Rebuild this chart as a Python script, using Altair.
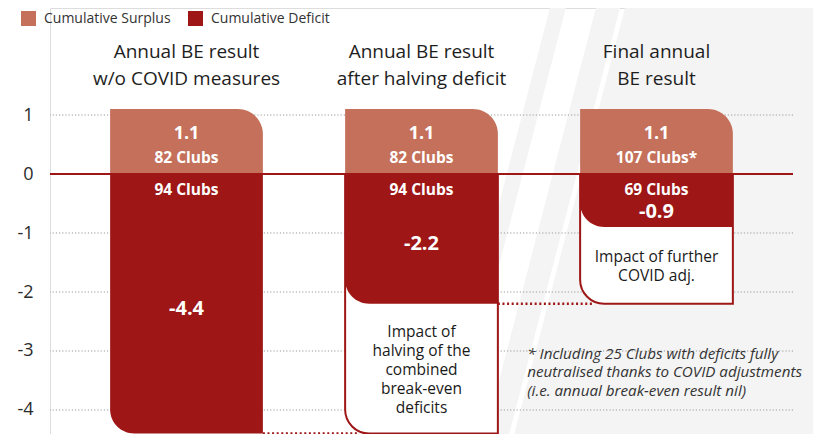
import altair as alt
import pandas as pd

# ---------------- data ----------------
titles = [["Annual BE result", "w/o COVID measures"],
          ["Annual BE result", "after halving deficit"],
          ["Final annual", "BE result"]]
surplus = [1.1, 1.1, 1.1]
surplus_clubs = ["82 Clubs", "82 Clubs", "107 Clubs*"]
deficit = [-4.4, -2.2, -0.9]
deficit_clubs = ["94 Clubs", "94 Clubs", "69 Clubs"]
impact_notes = [None,
                ["Impact of", "halving of the", "combined", "break-even", "deficits"],
                ["Impact of further", "COVID adj."]]
y_ticks = [1, 0, -1, -2, -3, -4]
legend_labels = ["Cumulative Surplus", "Cumulative Deficit"]
footnote = ["* Including 25 Clubs with deficits fully",
            "neutralised thanks to COVID adjustments",
            "(i.e. annual break-even result nil)"]

# decorative diagonal background bands (chart units): name, top-left, bottom-left, top-right, bottom-right
decor_bands = [("b1", 1.5464, 1.0753, 1.6145, 1.1434),
               ("b2", 1.7421, 1.2711, 1.8443, 1.3732),
               ("b3", 1.8655, 1.3945, 2.75, 2.75)]

# ---------------- style ----------------
SURPLUS = "#C4705A"
DEFICIT = "#9E1616"
FONT = "Open Sans"
HW = 0.325  # half bar width in category units
XDOM = [-0.5809, 2.5809]
YDOM = [-4.4068, 2.8136]
W, H = 743, 426
PPU = H / (YDOM[1] - YDOM[0])  # pixels per y unit
NOTE_LH = 19
FOOT_LH = 18.5

xs = alt.Scale(domain=XDOM, nice=False, zero=False)
ys = alt.Scale(domain=YDOM, nice=False, zero=False)
yaxis = alt.Axis(values=y_ticks, grid=False, ticks=False, domain=False,
                 labelFontSize=18, labelColor="#2b2b2b", labelFont=FONT,
                 labelPadding=17, title=None, labelExpr="'' + datum.value")


def X(f):
    return alt.X(f, type="quantitative", scale=xs, axis=None, stack=None)


def Y(f):
    return alt.Y(f, type="quantitative", scale=ys, axis=yaxis)


n = len(surplus)
bars = pd.DataFrame({
    "i": list(range(n)),
    "x0": [i - HW for i in range(n)],
    "x1": [i + HW for i in range(n)],
    "surplus": surplus,
    "deficit": deficit,
    "zero": [0] * n,
    "s_txt": [f"{v:.1f}" for v in surplus],
    "d_txt": [f"{v:.1f}" for v in deficit],
    "s_clubs": surplus_clubs,
    "d_clubs": deficit_clubs,
    "d_lab": [min(v / 2, -0.56) for v in deficit],
    "title": titles,
})
bars["t_s"] = legend_labels[0]
bars["t_d"] = legend_labels[1]

notes_list = impact_notes[1:]
boxes = pd.DataFrame({
    "x0": [i - HW for i in range(1, n)],
    "x1": [i + HW for i in range(1, n)],
    "prev": deficit[:-1],
    "zero": [0] * (n - 1),
    # centre of the box, shifted so that the multi-line block is centred
    "mid": [(deficit[i] + deficit[i - 1]) / 2 + (len(notes_list[i - 1]) - 1) / 2 * NOTE_LH / PPU
            for i in range(1, n)],
    "i": list(range(1, n)),
    "note": notes_list,
})

conn = pd.DataFrame({
    "x0": [i + HW for i in range(n - 1)],
    "x1": [i + 1 - HW + 0.05 for i in range(n - 1)],
    "y": deficit[:-1],
})

grid = pd.DataFrame({"v": y_ticks})

decor_rows = []
for name, tl, bl, tr, br in decor_bands:
    decor_rows.append({"band": name, "y": YDOM[1], "x": tl, "x2": tr})
    decor_rows.append({"band": name, "y": YDOM[0], "x": bl, "x2": br})
decor = pd.DataFrame(decor_rows)

foot = pd.DataFrame({"x": [1.45],
                     "y": [-3.356 + (len(footnote) - 1) / 2 * FOOT_LH / PPU],
                     "t": [footnote]})

color = alt.Color("type:N",
                  scale=alt.Scale(domain=legend_labels, range=[SURPLUS, DEFICIT]),
                  legend=alt.Legend(orient="none", legendX=-29, legendY=3,
                                    direction="horizontal", title=None,
                                    symbolType="square", symbolSize=225,
                                    symbolStrokeWidth=0, symbolOpacity=1,
                                    labelFontSize=14, labelFont=FONT,
                                    labelColor="#333333", columnPadding=17,
                                    labelOffset=8, padding=0, labelLimit=300))

# ---------------- layers ----------------
bg = alt.Chart(decor).mark_area(orient="horizontal", color="#F4F4F4").encode(
    y=Y("y"), x=X("x"), x2="x2", detail="band:N")

gridlines = alt.Chart(grid).transform_filter("datum.v != 0").mark_rule(
    color="#9a9a9a", strokeWidth=1, strokeDash=[1.2, 2]).encode(y=Y("v"))

box_layer = alt.Chart(boxes).mark_rect(
    fill="white", stroke=DEFICIT, strokeWidth=2, cornerRadiusBottomLeft=24).encode(
    x=X("x0"), x2="x1", y=Y("prev"), y2="zero")

surplus_layer = alt.Chart(bars).transform_calculate(type="datum.t_s").mark_rect(
    cornerRadiusTopRight=25).encode(
    x=X("x0"), x2="x1", y=Y("surplus"), y2="zero", color=color)

deficit_layer = alt.Chart(bars).transform_calculate(type="datum.t_d").mark_rect(
    cornerRadiusBottomLeft=24).encode(
    x=X("x0"), x2="x1", y=Y("deficit"), y2="zero", color=color)

zero_line = alt.Chart(grid).transform_filter("datum.v == 0").mark_rule(
    color=DEFICIT, strokeWidth=2).encode(y=Y("v"))

connectors = alt.Chart(conn).mark_rule(
    color=DEFICIT, strokeWidth=2.5, strokeDash=[2, 2.6]).encode(
    x=X("x0"), x2="x1", y=Y("y"))

base = alt.Chart(bars)
title_text = base.mark_text(align="center", baseline="bottom", fontSize=19,
                            font=FONT, color="#1e1e1e", lineHeight=27, dy=-47).encode(
    x=X("i"), y=Y("surplus"), text="title")

s_val = base.mark_text(align="center", baseline="middle", fontSize=18, fontWeight="bold",
                       font=FONT, color="white", dy=25).encode(
    x=X("i"), y=Y("surplus"), text="s_txt:N")
s_clubs = base.mark_text(align="center", baseline="middle", fontSize=15.5, fontWeight="bold",
                         font=FONT, color="white", dy=49).encode(
    x=X("i"), y=Y("surplus"), text="s_clubs:N")
d_clubs = base.mark_text(align="center", baseline="middle", fontSize=15.5, fontWeight="bold",
                         font=FONT, color="white", dy=16).encode(
    x=X("i"), y=Y("zero"), text="d_clubs:N")
d_val = base.mark_text(align="center", baseline="middle", fontSize=20, fontWeight="bold",
                       font=FONT, color="white", dy=5).encode(
    x=X("i"), y=Y("d_lab"), text="d_txt:N")

notes = alt.Chart(boxes).mark_text(align="center", baseline="middle", fontSize=15.5,
                                   font=FONT, color="#1a1a1a", lineHeight=NOTE_LH, dy=1).encode(
    x=X("i"), y=Y("mid"), text="note")

foot_text = alt.Chart(foot).mark_text(align="left", baseline="middle", fontSize=15.2,
                                      fontStyle="italic", font=FONT, color="#333333",
                                      lineHeight=FOOT_LH).encode(
    x=X("x"), y=Y("y"), text="t")

chart = alt.layer(bg, gridlines, box_layer, surplus_layer, deficit_layer, zero_line,
                  connectors, title_text, s_val, s_clubs, d_clubs, d_val, notes,
                  foot_text).properties(
    width=W, height=H,
    autosize=alt.AutoSizeParams(type="none"),
    padding={"left": 42, "top": 0, "right": 20, "bottom": 0},
).configure_view(stroke=None).configure(background="white", font=FONT)

chart.save("out.html", embed_options={"renderer": "svg", "actions": False})
